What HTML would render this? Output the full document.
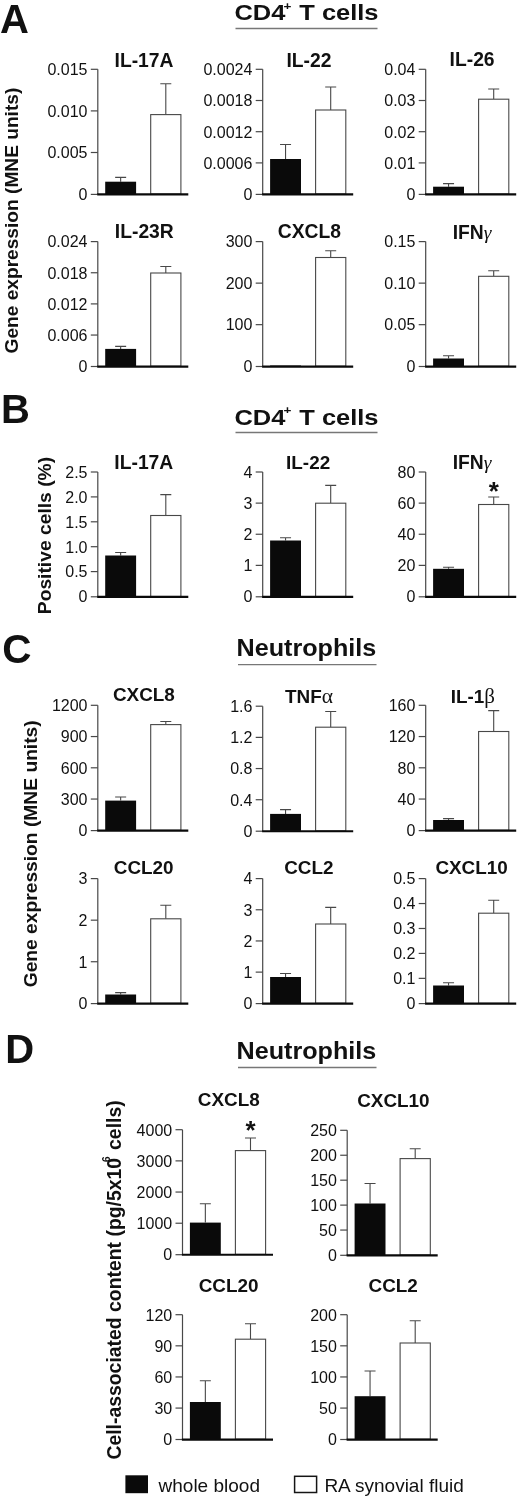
<!DOCTYPE html>
<html><head><meta charset="utf-8"><title>Figure</title>
<style>
html,body{margin:0;padding:0;background:#fff;}
svg{display:block;font-family:"Liberation Sans",sans-serif;fill:#111;will-change:transform;}
</style></head>
<body>
<svg width="520" height="1500" viewBox="0 0 520 1500">
<rect width="520" height="1500" fill="#fff"/>
<text x="0" y="33" font-size="40" text-anchor="start" font-weight="bold">A</text>
<text transform="translate(306.5 20.1) scale(1.18 1)" font-size="21.6" text-anchor="middle" font-weight="bold">CD4<tspan dx="-1.6" dy="-10.4" font-size="11.5">+</tspan><tspan dx="0.6" dy="10.4"> T cells</tspan></text>
<path d="M235.5 28.5H377.5" stroke="#777" stroke-width="1.3"/>
<path d="M120.65 181.7V177.4M115.15 177.4H126.15" stroke="#484848" stroke-width="1.1" fill="none"/>
<path d="M165.79999999999998 114.6V83.8M160.29999999999998 83.8H171.29999999999998" stroke="#484848" stroke-width="1.1" fill="none"/>
<rect x="105.2" y="181.7" width="30.89999999999999" height="12.400000000000006" fill="#0a0a0a"/>
<rect x="150.7" y="114.6" width="30.19999999999999" height="79.5" fill="#fff" stroke="#484848" stroke-width="1.1"/>
<path d="M97.8 69.3V194.1" stroke="#484848" stroke-width="1.2" fill="none"/>
<path d="M90.8 194.4H97.8" stroke="#484848" stroke-width="1.2" fill="none"/>
<path d="M97.2 194.45H188.3" stroke="#0a0a0a" stroke-width="2.2" fill="none"/>
<path d="M90.8 69.3H97.8" stroke="#484848" stroke-width="1.2" fill="none"/>
<text x="87.5" y="75.1" font-size="16.0" text-anchor="end">0.015</text>
<path d="M90.8 110.9H97.8" stroke="#484848" stroke-width="1.2" fill="none"/>
<text x="87.5" y="116.7" font-size="16.0" text-anchor="end">0.010</text>
<path d="M90.8 152.5H97.8" stroke="#484848" stroke-width="1.2" fill="none"/>
<text x="87.5" y="158.3" font-size="16.0" text-anchor="end">0.005</text>
<text x="87.5" y="199.9" font-size="16.0" text-anchor="end">0</text>
<text x="144.0" y="66.5" font-size="19.3" text-anchor="middle" font-weight="bold">IL-17A</text>
<path d="M285.54999999999995 159V144.5M280.04999999999995 144.5H291.04999999999995" stroke="#484848" stroke-width="1.1" fill="none"/>
<path d="M330.69999999999993 110V87M325.19999999999993 87H336.19999999999993" stroke="#484848" stroke-width="1.1" fill="none"/>
<rect x="270.09999999999997" y="159" width="30.900000000000034" height="35.099999999999994" fill="#0a0a0a"/>
<rect x="315.59999999999997" y="110" width="30.19999999999999" height="84.1" fill="#fff" stroke="#484848" stroke-width="1.1"/>
<path d="M262.7 69.3V194.1" stroke="#484848" stroke-width="1.2" fill="none"/>
<path d="M255.7 194.4H262.7" stroke="#484848" stroke-width="1.2" fill="none"/>
<path d="M262.09999999999997 194.45H353.2" stroke="#0a0a0a" stroke-width="2.2" fill="none"/>
<path d="M255.7 69.3H262.7" stroke="#484848" stroke-width="1.2" fill="none"/>
<text x="252.39999999999998" y="75.1" font-size="16.0" text-anchor="end">0.0024</text>
<path d="M255.7 100.5H262.7" stroke="#484848" stroke-width="1.2" fill="none"/>
<text x="252.39999999999998" y="106.3" font-size="16.0" text-anchor="end">0.0018</text>
<path d="M255.7 131.7H262.7" stroke="#484848" stroke-width="1.2" fill="none"/>
<text x="252.39999999999998" y="137.5" font-size="16.0" text-anchor="end">0.0012</text>
<path d="M255.7 162.89999999999998H262.7" stroke="#484848" stroke-width="1.2" fill="none"/>
<text x="252.39999999999998" y="168.7" font-size="16.0" text-anchor="end">0.0006</text>
<text x="252.39999999999998" y="199.9" font-size="16.0" text-anchor="end">0</text>
<text x="309" y="66.5" font-size="19.3" text-anchor="middle" font-weight="bold">IL-22</text>
<path d="M448.54999999999995 186.7V183.6M443.04999999999995 183.6H454.04999999999995" stroke="#484848" stroke-width="1.1" fill="none"/>
<path d="M493.69999999999993 99.2V89M488.19999999999993 89H499.19999999999993" stroke="#484848" stroke-width="1.1" fill="none"/>
<rect x="433.09999999999997" y="186.7" width="30.900000000000034" height="7.400000000000006" fill="#0a0a0a"/>
<rect x="478.59999999999997" y="99.2" width="30.19999999999999" height="94.89999999999999" fill="#fff" stroke="#484848" stroke-width="1.1"/>
<path d="M425.7 69.3V194.1" stroke="#484848" stroke-width="1.2" fill="none"/>
<path d="M418.7 194.4H425.7" stroke="#484848" stroke-width="1.2" fill="none"/>
<path d="M425.09999999999997 194.45H516.2" stroke="#0a0a0a" stroke-width="2.2" fill="none"/>
<path d="M418.7 69.3H425.7" stroke="#484848" stroke-width="1.2" fill="none"/>
<text x="415.4" y="75.1" font-size="16.0" text-anchor="end">0.04</text>
<path d="M418.7 100.5H425.7" stroke="#484848" stroke-width="1.2" fill="none"/>
<text x="415.4" y="106.3" font-size="16.0" text-anchor="end">0.03</text>
<path d="M418.7 131.7H425.7" stroke="#484848" stroke-width="1.2" fill="none"/>
<text x="415.4" y="137.5" font-size="16.0" text-anchor="end">0.02</text>
<path d="M418.7 162.89999999999998H425.7" stroke="#484848" stroke-width="1.2" fill="none"/>
<text x="415.4" y="168.7" font-size="16.0" text-anchor="end">0.01</text>
<text x="415.4" y="199.9" font-size="16.0" text-anchor="end">0</text>
<text x="472.1" y="66.3" font-size="19.3" text-anchor="middle" font-weight="bold">IL-26</text>
<path d="M120.65 348.9V346.4M115.15 346.4H126.15" stroke="#484848" stroke-width="1.1" fill="none"/>
<path d="M165.79999999999998 273V266.5M160.29999999999998 266.5H171.29999999999998" stroke="#484848" stroke-width="1.1" fill="none"/>
<rect x="105.2" y="348.9" width="30.89999999999999" height="17.30000000000001" fill="#0a0a0a"/>
<rect x="150.7" y="273" width="30.19999999999999" height="93.19999999999999" fill="#fff" stroke="#484848" stroke-width="1.1"/>
<path d="M97.8 241.6V366.2" stroke="#484848" stroke-width="1.2" fill="none"/>
<path d="M90.8 366.5H97.8" stroke="#484848" stroke-width="1.2" fill="none"/>
<path d="M97.2 366.55H188.3" stroke="#0a0a0a" stroke-width="2.2" fill="none"/>
<path d="M90.8 241.6H97.8" stroke="#484848" stroke-width="1.2" fill="none"/>
<text x="87.5" y="247.4" font-size="16.0" text-anchor="end">0.024</text>
<path d="M90.8 272.75H97.8" stroke="#484848" stroke-width="1.2" fill="none"/>
<text x="87.5" y="278.55" font-size="16.0" text-anchor="end">0.018</text>
<path d="M90.8 303.9H97.8" stroke="#484848" stroke-width="1.2" fill="none"/>
<text x="87.5" y="309.7" font-size="16.0" text-anchor="end">0.012</text>
<path d="M90.8 335.04999999999995H97.8" stroke="#484848" stroke-width="1.2" fill="none"/>
<text x="87.5" y="340.84999999999997" font-size="16.0" text-anchor="end">0.006</text>
<text x="87.5" y="372.0" font-size="16.0" text-anchor="end">0</text>
<text x="144.3" y="238.4" font-size="19.3" text-anchor="middle" font-weight="bold">IL-23R</text>
<path d="M330.69999999999993 257.5V250.8M325.19999999999993 250.8H336.19999999999993" stroke="#484848" stroke-width="1.1" fill="none"/>
<rect x="270.09999999999997" y="365.5" width="30.900000000000034" height="0.6999999999999886" fill="#0a0a0a"/>
<rect x="315.59999999999997" y="257.5" width="30.19999999999999" height="108.69999999999999" fill="#fff" stroke="#484848" stroke-width="1.1"/>
<path d="M262.7 241.6V366.2" stroke="#484848" stroke-width="1.2" fill="none"/>
<path d="M255.7 366.5H262.7" stroke="#484848" stroke-width="1.2" fill="none"/>
<path d="M262.09999999999997 366.55H353.2" stroke="#0a0a0a" stroke-width="2.2" fill="none"/>
<path d="M255.7 241.6H262.7" stroke="#484848" stroke-width="1.2" fill="none"/>
<text x="252.39999999999998" y="247.4" font-size="16.0" text-anchor="end">300</text>
<path d="M255.7 283.1333333333333H262.7" stroke="#484848" stroke-width="1.2" fill="none"/>
<text x="252.39999999999998" y="288.93333333333334" font-size="16.0" text-anchor="end">200</text>
<path d="M255.7 324.66666666666663H262.7" stroke="#484848" stroke-width="1.2" fill="none"/>
<text x="252.39999999999998" y="330.46666666666664" font-size="16.0" text-anchor="end">100</text>
<text x="252.39999999999998" y="372.0" font-size="16.0" text-anchor="end">0</text>
<text x="309.4" y="238.4" font-size="19.3" text-anchor="middle" font-weight="bold">CXCL8</text>
<path d="M448.54999999999995 358.5V355.7M443.04999999999995 355.7H454.04999999999995" stroke="#484848" stroke-width="1.1" fill="none"/>
<path d="M493.69999999999993 276.3V270.8M488.19999999999993 270.8H499.19999999999993" stroke="#484848" stroke-width="1.1" fill="none"/>
<rect x="433.09999999999997" y="358.5" width="30.900000000000034" height="7.699999999999989" fill="#0a0a0a"/>
<rect x="478.59999999999997" y="276.3" width="30.19999999999999" height="89.89999999999998" fill="#fff" stroke="#484848" stroke-width="1.1"/>
<path d="M425.7 241.6V366.2" stroke="#484848" stroke-width="1.2" fill="none"/>
<path d="M418.7 366.5H425.7" stroke="#484848" stroke-width="1.2" fill="none"/>
<path d="M425.09999999999997 366.55H516.2" stroke="#0a0a0a" stroke-width="2.2" fill="none"/>
<path d="M418.7 241.6H425.7" stroke="#484848" stroke-width="1.2" fill="none"/>
<text x="415.4" y="247.4" font-size="16.0" text-anchor="end">0.15</text>
<path d="M418.7 283.1333333333333H425.7" stroke="#484848" stroke-width="1.2" fill="none"/>
<text x="415.4" y="288.93333333333334" font-size="16.0" text-anchor="end">0.10</text>
<path d="M418.7 324.66666666666663H425.7" stroke="#484848" stroke-width="1.2" fill="none"/>
<text x="415.4" y="330.46666666666664" font-size="16.0" text-anchor="end">0.05</text>
<text x="415.4" y="372.0" font-size="16.0" text-anchor="end">0</text>
<text x="472" y="238.8" font-size="19.3" text-anchor="middle" font-weight="bold">IFN<tspan font-family="Liberation Serif" font-weight="normal" font-style="italic" font-size="19.5">γ</tspan></text>
<text transform="translate(18.4 353.5) rotate(-90)" font-size="19.2" font-weight="bold" textLength="265.8" lengthAdjust="spacingAndGlyphs">Gene expression (MNE units)</text>
<text x="1.1" y="422.8" font-size="40" text-anchor="start" font-weight="bold">B</text>
<text transform="translate(306.5 424.8) scale(1.18 1)" font-size="21.6" text-anchor="middle" font-weight="bold">CD4<tspan dx="-1.6" dy="-10.4" font-size="11.5">+</tspan><tspan dx="0.6" dy="10.4"> T cells</tspan></text>
<path d="M235.5 432.5H377.5" stroke="#777" stroke-width="1.3"/>
<path d="M120.65 555.5V552.5M115.15 552.5H126.15" stroke="#484848" stroke-width="1.1" fill="none"/>
<path d="M165.79999999999998 515.5V494.6M160.29999999999998 494.6H171.29999999999998" stroke="#484848" stroke-width="1.1" fill="none"/>
<rect x="105.2" y="555.5" width="30.89999999999999" height="41.0" fill="#0a0a0a"/>
<rect x="150.7" y="515.5" width="30.19999999999999" height="81.0" fill="#fff" stroke="#484848" stroke-width="1.1"/>
<path d="M97.8 472.0V596.5" stroke="#484848" stroke-width="1.2" fill="none"/>
<path d="M90.8 596.8H97.8" stroke="#484848" stroke-width="1.2" fill="none"/>
<path d="M97.2 596.85H188.3" stroke="#0a0a0a" stroke-width="2.2" fill="none"/>
<path d="M90.8 472.0H97.8" stroke="#484848" stroke-width="1.2" fill="none"/>
<text x="87.5" y="477.8" font-size="16.0" text-anchor="end">2.5</text>
<path d="M90.8 496.9H97.8" stroke="#484848" stroke-width="1.2" fill="none"/>
<text x="87.5" y="502.7" font-size="16.0" text-anchor="end">2.0</text>
<path d="M90.8 521.8H97.8" stroke="#484848" stroke-width="1.2" fill="none"/>
<text x="87.5" y="527.5999999999999" font-size="16.0" text-anchor="end">1.5</text>
<path d="M90.8 546.7H97.8" stroke="#484848" stroke-width="1.2" fill="none"/>
<text x="87.5" y="552.5" font-size="16.0" text-anchor="end">1.0</text>
<path d="M90.8 571.6H97.8" stroke="#484848" stroke-width="1.2" fill="none"/>
<text x="87.5" y="577.4" font-size="16.0" text-anchor="end">0.5</text>
<text x="87.5" y="602.3" font-size="16.0" text-anchor="end">0</text>
<text x="143.8" y="468.5" font-size="19.3" text-anchor="middle" font-weight="bold">IL-17A</text>
<path d="M285.54999999999995 540.5V537.7M280.04999999999995 537.7H291.04999999999995" stroke="#484848" stroke-width="1.1" fill="none"/>
<path d="M330.69999999999993 503.2V485.4M325.19999999999993 485.4H336.19999999999993" stroke="#484848" stroke-width="1.1" fill="none"/>
<rect x="270.09999999999997" y="540.5" width="30.900000000000034" height="56.0" fill="#0a0a0a"/>
<rect x="315.59999999999997" y="503.2" width="30.19999999999999" height="93.30000000000001" fill="#fff" stroke="#484848" stroke-width="1.1"/>
<path d="M262.7 472.0V596.5" stroke="#484848" stroke-width="1.2" fill="none"/>
<path d="M255.7 596.8H262.7" stroke="#484848" stroke-width="1.2" fill="none"/>
<path d="M262.09999999999997 596.85H353.2" stroke="#0a0a0a" stroke-width="2.2" fill="none"/>
<path d="M255.7 472.0H262.7" stroke="#484848" stroke-width="1.2" fill="none"/>
<text x="252.39999999999998" y="477.8" font-size="16.0" text-anchor="end">4</text>
<path d="M255.7 503.125H262.7" stroke="#484848" stroke-width="1.2" fill="none"/>
<text x="252.39999999999998" y="508.925" font-size="16.0" text-anchor="end">3</text>
<path d="M255.7 534.25H262.7" stroke="#484848" stroke-width="1.2" fill="none"/>
<text x="252.39999999999998" y="540.05" font-size="16.0" text-anchor="end">2</text>
<path d="M255.7 565.375H262.7" stroke="#484848" stroke-width="1.2" fill="none"/>
<text x="252.39999999999998" y="571.175" font-size="16.0" text-anchor="end">1</text>
<text x="252.39999999999998" y="602.3" font-size="16.0" text-anchor="end">0</text>
<text x="308.1" y="468.8" font-size="18.9" text-anchor="middle" font-weight="bold">IL-22</text>
<path d="M448.54999999999995 568.8V567.2M443.04999999999995 567.2H454.04999999999995" stroke="#484848" stroke-width="1.1" fill="none"/>
<path d="M493.69999999999993 504.5V497M488.19999999999993 497H499.19999999999993" stroke="#484848" stroke-width="1.1" fill="none"/>
<rect x="433.09999999999997" y="568.8" width="30.900000000000034" height="27.700000000000045" fill="#0a0a0a"/>
<rect x="478.59999999999997" y="504.5" width="30.19999999999999" height="92.0" fill="#fff" stroke="#484848" stroke-width="1.1"/>
<path d="M425.7 472.0V596.5" stroke="#484848" stroke-width="1.2" fill="none"/>
<path d="M418.7 596.8H425.7" stroke="#484848" stroke-width="1.2" fill="none"/>
<path d="M425.09999999999997 596.85H516.2" stroke="#0a0a0a" stroke-width="2.2" fill="none"/>
<path d="M418.7 472.0H425.7" stroke="#484848" stroke-width="1.2" fill="none"/>
<text x="415.4" y="477.8" font-size="16.0" text-anchor="end">80</text>
<path d="M418.7 503.125H425.7" stroke="#484848" stroke-width="1.2" fill="none"/>
<text x="415.4" y="508.925" font-size="16.0" text-anchor="end">60</text>
<path d="M418.7 534.25H425.7" stroke="#484848" stroke-width="1.2" fill="none"/>
<text x="415.4" y="540.05" font-size="16.0" text-anchor="end">40</text>
<path d="M418.7 565.375H425.7" stroke="#484848" stroke-width="1.2" fill="none"/>
<text x="415.4" y="571.175" font-size="16.0" text-anchor="end">20</text>
<text x="415.4" y="602.3" font-size="16.0" text-anchor="end">0</text>
<text x="472" y="468.8" font-size="19.3" text-anchor="middle" font-weight="bold">IFN<tspan font-family="Liberation Serif" font-weight="normal" font-style="italic" font-size="19.5">γ</tspan></text>
<text x="493.8" y="500.2" font-size="26" text-anchor="middle" font-weight="bold">*</text>
<text transform="translate(50.9 614.2) rotate(-90)" font-size="19.25" font-weight="bold">Positive cells (%)</text>
<text x="2.2" y="663.2" font-size="40.5" text-anchor="start" font-weight="bold">C</text>
<text transform="translate(306.4 656.4) scale(1.086 1)" font-size="23.2" text-anchor="middle" font-weight="bold">Neutrophils</text>
<path d="M238 664.6H376.5" stroke="#777" stroke-width="1.3"/>
<path d="M120.65 800.6V797M115.15 797H126.15" stroke="#484848" stroke-width="1.1" fill="none"/>
<path d="M165.79999999999998 724.6V721.5M160.29999999999998 721.5H171.29999999999998" stroke="#484848" stroke-width="1.1" fill="none"/>
<rect x="105.2" y="800.6" width="30.89999999999999" height="29.699999999999932" fill="#0a0a0a"/>
<rect x="150.7" y="724.6" width="30.19999999999999" height="105.69999999999993" fill="#fff" stroke="#484848" stroke-width="1.1"/>
<path d="M97.8 705.3V830.3" stroke="#484848" stroke-width="1.2" fill="none"/>
<path d="M90.8 830.5999999999999H97.8" stroke="#484848" stroke-width="1.2" fill="none"/>
<path d="M97.2 830.65H188.3" stroke="#0a0a0a" stroke-width="2.2" fill="none"/>
<path d="M90.8 705.3H97.8" stroke="#484848" stroke-width="1.2" fill="none"/>
<text x="87.5" y="711.0999999999999" font-size="16.0" text-anchor="end">1200</text>
<path d="M90.8 736.55H97.8" stroke="#484848" stroke-width="1.2" fill="none"/>
<text x="87.5" y="742.3499999999999" font-size="16.0" text-anchor="end">900</text>
<path d="M90.8 767.8H97.8" stroke="#484848" stroke-width="1.2" fill="none"/>
<text x="87.5" y="773.5999999999999" font-size="16.0" text-anchor="end">600</text>
<path d="M90.8 799.05H97.8" stroke="#484848" stroke-width="1.2" fill="none"/>
<text x="87.5" y="804.8499999999999" font-size="16.0" text-anchor="end">300</text>
<text x="87.5" y="836.0999999999999" font-size="16.0" text-anchor="end">0</text>
<text x="143.9" y="701.4" font-size="18.9" text-anchor="middle" font-weight="bold">CXCL8</text>
<path d="M285.54999999999995 813.9V809.6M280.04999999999995 809.6H291.04999999999995" stroke="#484848" stroke-width="1.1" fill="none"/>
<path d="M330.69999999999993 727.2V711.5M325.19999999999993 711.5H336.19999999999993" stroke="#484848" stroke-width="1.1" fill="none"/>
<rect x="270.09999999999997" y="813.9" width="30.900000000000034" height="17.0" fill="#0a0a0a"/>
<rect x="315.59999999999997" y="727.2" width="30.19999999999999" height="103.69999999999993" fill="#fff" stroke="#484848" stroke-width="1.1"/>
<path d="M262.7 706.2V830.9" stroke="#484848" stroke-width="1.2" fill="none"/>
<path d="M255.7 831.1999999999999H262.7" stroke="#484848" stroke-width="1.2" fill="none"/>
<path d="M262.09999999999997 831.25H353.2" stroke="#0a0a0a" stroke-width="2.2" fill="none"/>
<path d="M255.7 706.2H262.7" stroke="#484848" stroke-width="1.2" fill="none"/>
<text x="252.39999999999998" y="712.0" font-size="16.0" text-anchor="end">1.6</text>
<path d="M255.7 737.375H262.7" stroke="#484848" stroke-width="1.2" fill="none"/>
<text x="252.39999999999998" y="743.175" font-size="16.0" text-anchor="end">1.2</text>
<path d="M255.7 768.55H262.7" stroke="#484848" stroke-width="1.2" fill="none"/>
<text x="252.39999999999998" y="774.3499999999999" font-size="16.0" text-anchor="end">0.8</text>
<path d="M255.7 799.725H262.7" stroke="#484848" stroke-width="1.2" fill="none"/>
<text x="252.39999999999998" y="805.525" font-size="16.0" text-anchor="end">0.4</text>
<text x="252.39999999999998" y="836.6999999999999" font-size="16.0" text-anchor="end">0</text>
<text x="309" y="703.2" font-size="18.9" text-anchor="middle" font-weight="bold">TNF<tspan font-family="Liberation Serif" font-weight="normal" font-size="21.5">α</tspan></text>
<path d="M448.54999999999995 820V818.6M443.04999999999995 818.6H454.04999999999995" stroke="#484848" stroke-width="1.1" fill="none"/>
<path d="M493.69999999999993 731.5V710.6M488.19999999999993 710.6H499.19999999999993" stroke="#484848" stroke-width="1.1" fill="none"/>
<rect x="433.09999999999997" y="820" width="30.900000000000034" height="10.299999999999955" fill="#0a0a0a"/>
<rect x="478.59999999999997" y="731.5" width="30.19999999999999" height="98.79999999999995" fill="#fff" stroke="#484848" stroke-width="1.1"/>
<path d="M425.7 705.3V830.3" stroke="#484848" stroke-width="1.2" fill="none"/>
<path d="M418.7 830.5999999999999H425.7" stroke="#484848" stroke-width="1.2" fill="none"/>
<path d="M425.09999999999997 830.65H516.2" stroke="#0a0a0a" stroke-width="2.2" fill="none"/>
<path d="M418.7 705.3H425.7" stroke="#484848" stroke-width="1.2" fill="none"/>
<text x="415.4" y="711.0999999999999" font-size="16.0" text-anchor="end">160</text>
<path d="M418.7 736.55H425.7" stroke="#484848" stroke-width="1.2" fill="none"/>
<text x="415.4" y="742.3499999999999" font-size="16.0" text-anchor="end">120</text>
<path d="M418.7 767.8H425.7" stroke="#484848" stroke-width="1.2" fill="none"/>
<text x="415.4" y="773.5999999999999" font-size="16.0" text-anchor="end">80</text>
<path d="M418.7 799.05H425.7" stroke="#484848" stroke-width="1.2" fill="none"/>
<text x="415.4" y="804.8499999999999" font-size="16.0" text-anchor="end">40</text>
<text x="415.4" y="836.0999999999999" font-size="16.0" text-anchor="end">0</text>
<text x="472.8" y="703.2" font-size="18.9" text-anchor="middle" font-weight="bold">IL-1<tspan font-family="Liberation Serif" font-weight="normal" font-size="21">β</tspan></text>
<path d="M120.65 994.5V992.6M115.15 992.6H126.15" stroke="#484848" stroke-width="1.1" fill="none"/>
<path d="M165.79999999999998 918.8V905.2M160.29999999999998 905.2H171.29999999999998" stroke="#484848" stroke-width="1.1" fill="none"/>
<rect x="105.2" y="994.5" width="30.89999999999999" height="8.799999999999955" fill="#0a0a0a"/>
<rect x="150.7" y="918.8" width="30.19999999999999" height="84.5" fill="#fff" stroke="#484848" stroke-width="1.1"/>
<path d="M97.8 878.6V1003.3" stroke="#484848" stroke-width="1.2" fill="none"/>
<path d="M90.8 1003.5999999999999H97.8" stroke="#484848" stroke-width="1.2" fill="none"/>
<path d="M97.2 1003.65H188.3" stroke="#0a0a0a" stroke-width="2.2" fill="none"/>
<path d="M90.8 878.6H97.8" stroke="#484848" stroke-width="1.2" fill="none"/>
<text x="87.5" y="884.4" font-size="16.0" text-anchor="end">3</text>
<path d="M90.8 920.1666666666666H97.8" stroke="#484848" stroke-width="1.2" fill="none"/>
<text x="87.5" y="925.9666666666666" font-size="16.0" text-anchor="end">2</text>
<path d="M90.8 961.7333333333333H97.8" stroke="#484848" stroke-width="1.2" fill="none"/>
<text x="87.5" y="967.5333333333333" font-size="16.0" text-anchor="end">1</text>
<text x="87.5" y="1009.0999999999999" font-size="16.0" text-anchor="end">0</text>
<text x="143.7" y="874.3" font-size="18.9" text-anchor="middle" font-weight="bold">CCL20</text>
<path d="M285.54999999999995 977V973.5M280.04999999999995 973.5H291.04999999999995" stroke="#484848" stroke-width="1.1" fill="none"/>
<path d="M330.69999999999993 924V907.4M325.19999999999993 907.4H336.19999999999993" stroke="#484848" stroke-width="1.1" fill="none"/>
<rect x="270.09999999999997" y="977" width="30.900000000000034" height="26.299999999999955" fill="#0a0a0a"/>
<rect x="315.59999999999997" y="924" width="30.19999999999999" height="79.29999999999995" fill="#fff" stroke="#484848" stroke-width="1.1"/>
<path d="M262.7 878.6V1003.3" stroke="#484848" stroke-width="1.2" fill="none"/>
<path d="M255.7 1003.5999999999999H262.7" stroke="#484848" stroke-width="1.2" fill="none"/>
<path d="M262.09999999999997 1003.65H353.2" stroke="#0a0a0a" stroke-width="2.2" fill="none"/>
<path d="M255.7 878.6H262.7" stroke="#484848" stroke-width="1.2" fill="none"/>
<text x="252.39999999999998" y="884.4" font-size="16.0" text-anchor="end">4</text>
<path d="M255.7 909.775H262.7" stroke="#484848" stroke-width="1.2" fill="none"/>
<text x="252.39999999999998" y="915.5749999999999" font-size="16.0" text-anchor="end">3</text>
<path d="M255.7 940.95H262.7" stroke="#484848" stroke-width="1.2" fill="none"/>
<text x="252.39999999999998" y="946.75" font-size="16.0" text-anchor="end">2</text>
<path d="M255.7 972.125H262.7" stroke="#484848" stroke-width="1.2" fill="none"/>
<text x="252.39999999999998" y="977.925" font-size="16.0" text-anchor="end">1</text>
<text x="252.39999999999998" y="1009.0999999999999" font-size="16.0" text-anchor="end">0</text>
<text x="308.9" y="874.3" font-size="18.9" text-anchor="middle" font-weight="bold">CCL2</text>
<path d="M448.54999999999995 985.5V982.8M443.04999999999995 982.8H454.04999999999995" stroke="#484848" stroke-width="1.1" fill="none"/>
<path d="M493.69999999999993 913.2V900.3M488.19999999999993 900.3H499.19999999999993" stroke="#484848" stroke-width="1.1" fill="none"/>
<rect x="433.09999999999997" y="985.5" width="30.900000000000034" height="17.799999999999955" fill="#0a0a0a"/>
<rect x="478.59999999999997" y="913.2" width="30.19999999999999" height="90.09999999999991" fill="#fff" stroke="#484848" stroke-width="1.1"/>
<path d="M425.7 878.6V1003.3" stroke="#484848" stroke-width="1.2" fill="none"/>
<path d="M418.7 1003.5999999999999H425.7" stroke="#484848" stroke-width="1.2" fill="none"/>
<path d="M425.09999999999997 1003.65H516.2" stroke="#0a0a0a" stroke-width="2.2" fill="none"/>
<path d="M418.7 878.6H425.7" stroke="#484848" stroke-width="1.2" fill="none"/>
<text x="415.4" y="884.4" font-size="16.0" text-anchor="end">0.5</text>
<path d="M418.7 903.54H425.7" stroke="#484848" stroke-width="1.2" fill="none"/>
<text x="415.4" y="909.3399999999999" font-size="16.0" text-anchor="end">0.4</text>
<path d="M418.7 928.48H425.7" stroke="#484848" stroke-width="1.2" fill="none"/>
<text x="415.4" y="934.28" font-size="16.0" text-anchor="end">0.3</text>
<path d="M418.7 953.42H425.7" stroke="#484848" stroke-width="1.2" fill="none"/>
<text x="415.4" y="959.2199999999999" font-size="16.0" text-anchor="end">0.2</text>
<path d="M418.7 978.36H425.7" stroke="#484848" stroke-width="1.2" fill="none"/>
<text x="415.4" y="984.16" font-size="16.0" text-anchor="end">0.1</text>
<text x="415.4" y="1009.0999999999999" font-size="16.0" text-anchor="end">0</text>
<text x="471.6" y="874.3" font-size="18.9" text-anchor="middle" font-weight="bold">CXCL10</text>
<text transform="translate(36.7 987.3) rotate(-90)" font-size="19.2" font-weight="bold" textLength="267" lengthAdjust="spacingAndGlyphs">Gene expression (MNE units)</text>
<text x="5.3" y="1063" font-size="40" text-anchor="start" font-weight="bold">D</text>
<text transform="translate(306.4 1058.7) scale(1.086 1)" font-size="23.2" text-anchor="middle" font-weight="bold">Neutrophils</text>
<path d="M238 1067.5H376.5" stroke="#777" stroke-width="1.3"/>
<path d="M205.35000000000002 1222.6V1203.8M199.85000000000002 1203.8H210.85000000000002" stroke="#484848" stroke-width="1.1" fill="none"/>
<path d="M250.5 1150.6V1138M245.0 1138H256.0" stroke="#484848" stroke-width="1.1" fill="none"/>
<rect x="189.9" y="1222.6" width="30.900000000000006" height="31.800000000000182" fill="#0a0a0a"/>
<rect x="235.4" y="1150.6" width="30.200000000000017" height="103.80000000000018" fill="#fff" stroke="#484848" stroke-width="1.1"/>
<path d="M182.5 1129.7V1254.4" stroke="#484848" stroke-width="1.2" fill="none"/>
<path d="M175.5 1254.7H182.5" stroke="#484848" stroke-width="1.2" fill="none"/>
<path d="M181.9 1254.75H273.0" stroke="#0a0a0a" stroke-width="2.2" fill="none"/>
<path d="M175.5 1129.7H182.5" stroke="#484848" stroke-width="1.2" fill="none"/>
<text x="172.2" y="1135.5" font-size="16.0" text-anchor="end">4000</text>
<path d="M175.5 1160.875H182.5" stroke="#484848" stroke-width="1.2" fill="none"/>
<text x="172.2" y="1166.675" font-size="16.0" text-anchor="end">3000</text>
<path d="M175.5 1192.0500000000002H182.5" stroke="#484848" stroke-width="1.2" fill="none"/>
<text x="172.2" y="1197.8500000000001" font-size="16.0" text-anchor="end">2000</text>
<path d="M175.5 1223.2250000000001H182.5" stroke="#484848" stroke-width="1.2" fill="none"/>
<text x="172.2" y="1229.025" font-size="16.0" text-anchor="end">1000</text>
<text x="172.2" y="1260.2" font-size="16.0" text-anchor="end">0</text>
<text x="228.8" y="1106.4" font-size="18.9" text-anchor="middle" font-weight="bold">CXCL8</text>
<text x="250.5" y="1138.7" font-size="26" text-anchor="middle" font-weight="bold">*</text>
<path d="M370.04999999999995 1203.5V1183.5M364.54999999999995 1183.5H375.54999999999995" stroke="#484848" stroke-width="1.1" fill="none"/>
<path d="M415.19999999999993 1158.6V1148.8M409.69999999999993 1148.8H420.69999999999993" stroke="#484848" stroke-width="1.1" fill="none"/>
<rect x="354.59999999999997" y="1203.5" width="30.900000000000034" height="51.5" fill="#0a0a0a"/>
<rect x="400.09999999999997" y="1158.6" width="30.19999999999999" height="96.40000000000009" fill="#fff" stroke="#484848" stroke-width="1.1"/>
<path d="M347.2 1130.3V1255.0" stroke="#484848" stroke-width="1.2" fill="none"/>
<path d="M340.2 1255.3H347.2" stroke="#484848" stroke-width="1.2" fill="none"/>
<path d="M346.59999999999997 1255.35H437.7" stroke="#0a0a0a" stroke-width="2.2" fill="none"/>
<path d="M340.2 1130.3H347.2" stroke="#484848" stroke-width="1.2" fill="none"/>
<text x="336.9" y="1136.1" font-size="16.0" text-anchor="end">250</text>
<path d="M340.2 1155.24H347.2" stroke="#484848" stroke-width="1.2" fill="none"/>
<text x="336.9" y="1161.04" font-size="16.0" text-anchor="end">200</text>
<path d="M340.2 1180.18H347.2" stroke="#484848" stroke-width="1.2" fill="none"/>
<text x="336.9" y="1185.98" font-size="16.0" text-anchor="end">150</text>
<path d="M340.2 1205.12H347.2" stroke="#484848" stroke-width="1.2" fill="none"/>
<text x="336.9" y="1210.9199999999998" font-size="16.0" text-anchor="end">100</text>
<path d="M340.2 1230.06H347.2" stroke="#484848" stroke-width="1.2" fill="none"/>
<text x="336.9" y="1235.86" font-size="16.0" text-anchor="end">50</text>
<text x="336.9" y="1260.8" font-size="16.0" text-anchor="end">0</text>
<text x="393.4" y="1106.6" font-size="18.9" text-anchor="middle" font-weight="bold">CXCL10</text>
<path d="M205.35000000000002 1402V1380.8M199.85000000000002 1380.8H210.85000000000002" stroke="#484848" stroke-width="1.1" fill="none"/>
<path d="M250.5 1339.2V1323.8M245.0 1323.8H256.0" stroke="#484848" stroke-width="1.1" fill="none"/>
<rect x="189.9" y="1402" width="30.900000000000006" height="37.200000000000045" fill="#0a0a0a"/>
<rect x="235.4" y="1339.2" width="30.200000000000017" height="100.0" fill="#fff" stroke="#484848" stroke-width="1.1"/>
<path d="M182.5 1314.7V1439.2" stroke="#484848" stroke-width="1.2" fill="none"/>
<path d="M175.5 1439.5H182.5" stroke="#484848" stroke-width="1.2" fill="none"/>
<path d="M181.9 1439.55H273.0" stroke="#0a0a0a" stroke-width="2.2" fill="none"/>
<path d="M175.5 1314.7H182.5" stroke="#484848" stroke-width="1.2" fill="none"/>
<text x="172.2" y="1320.5" font-size="16.0" text-anchor="end">120</text>
<path d="M175.5 1345.825H182.5" stroke="#484848" stroke-width="1.2" fill="none"/>
<text x="172.2" y="1351.625" font-size="16.0" text-anchor="end">90</text>
<path d="M175.5 1376.95H182.5" stroke="#484848" stroke-width="1.2" fill="none"/>
<text x="172.2" y="1382.75" font-size="16.0" text-anchor="end">60</text>
<path d="M175.5 1408.075H182.5" stroke="#484848" stroke-width="1.2" fill="none"/>
<text x="172.2" y="1413.875" font-size="16.0" text-anchor="end">30</text>
<text x="172.2" y="1445.0" font-size="16.0" text-anchor="end">0</text>
<text x="228.6" y="1291.6" font-size="18.9" text-anchor="middle" font-weight="bold">CCL20</text>
<path d="M370.04999999999995 1396.2V1371M364.54999999999995 1371H375.54999999999995" stroke="#484848" stroke-width="1.1" fill="none"/>
<path d="M415.19999999999993 1343V1320.8M409.69999999999993 1320.8H420.69999999999993" stroke="#484848" stroke-width="1.1" fill="none"/>
<rect x="354.59999999999997" y="1396.2" width="30.900000000000034" height="43.0" fill="#0a0a0a"/>
<rect x="400.09999999999997" y="1343" width="30.19999999999999" height="96.20000000000005" fill="#fff" stroke="#484848" stroke-width="1.1"/>
<path d="M347.2 1314.7V1439.2" stroke="#484848" stroke-width="1.2" fill="none"/>
<path d="M340.2 1439.5H347.2" stroke="#484848" stroke-width="1.2" fill="none"/>
<path d="M346.59999999999997 1439.55H437.7" stroke="#0a0a0a" stroke-width="2.2" fill="none"/>
<path d="M340.2 1314.7H347.2" stroke="#484848" stroke-width="1.2" fill="none"/>
<text x="336.9" y="1320.5" font-size="16.0" text-anchor="end">200</text>
<path d="M340.2 1345.825H347.2" stroke="#484848" stroke-width="1.2" fill="none"/>
<text x="336.9" y="1351.625" font-size="16.0" text-anchor="end">150</text>
<path d="M340.2 1376.95H347.2" stroke="#484848" stroke-width="1.2" fill="none"/>
<text x="336.9" y="1382.75" font-size="16.0" text-anchor="end">100</text>
<path d="M340.2 1408.075H347.2" stroke="#484848" stroke-width="1.2" fill="none"/>
<text x="336.9" y="1413.875" font-size="16.0" text-anchor="end">50</text>
<text x="336.9" y="1445.0" font-size="16.0" text-anchor="end">0</text>
<text x="393.2" y="1291.7" font-size="18.9" text-anchor="middle" font-weight="bold">CCL2</text>
<text transform="translate(121.2 1459.6) rotate(-90)" font-size="19.4" font-weight="bold">Cell-associated content (pg/5x10<tspan dx="-4.2" dy="-11.4" font-size="10">6</tspan><tspan dx="1.2" dy="11.4"> cells)</tspan></text>
<rect x="125.4" y="1475.3" width="22.6" height="17.9" fill="#0a0a0a"/>
<text x="158.5" y="1491.5" font-size="19" text-anchor="start" textLength="101.5" lengthAdjust="spacingAndGlyphs">whole blood</text>
<rect x="294.6" y="1476.3" width="22" height="16.2" fill="#fff" stroke="#151515" stroke-width="1.5"/>
<text x="324.4" y="1491.6" font-size="19" text-anchor="start">RA synovial fluid</text>
</svg>
</body></html>
